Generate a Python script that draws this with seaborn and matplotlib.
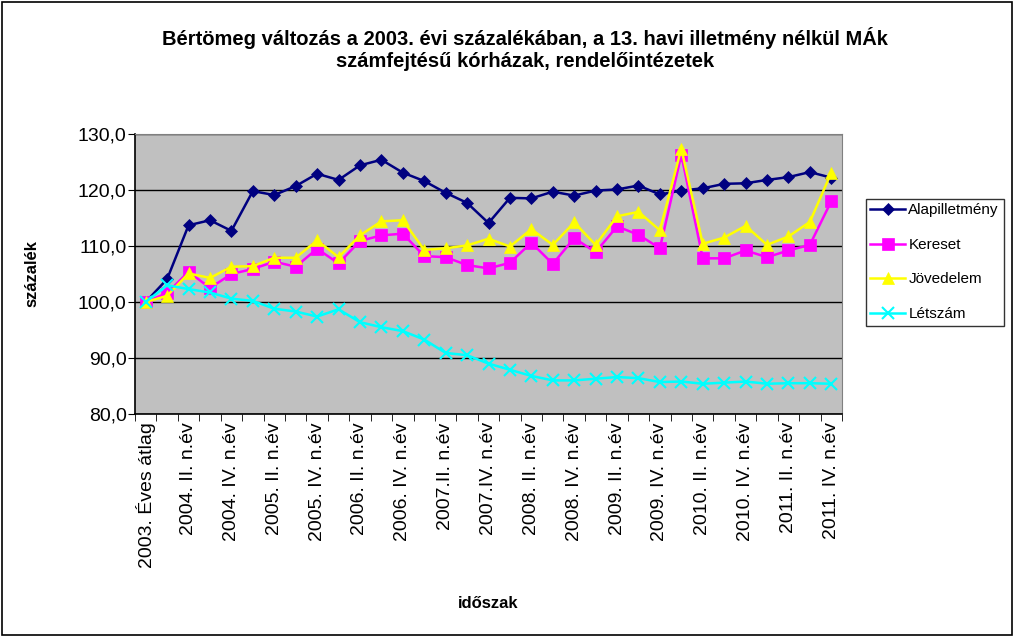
import matplotlib
matplotlib.use("Agg")
import matplotlib.pyplot as plt
import numpy as np
import pandas as pd
import seaborn as sns
from matplotlib.patches import Rectangle

# --- data ---
periods = ["2003. Éves átlag"]
for year in range(2004, 2012):
    for q in ["I.", "II.", "III.", "IV."]:
        sep = "" if year == 2007 else " "
        periods.append(f"{year}.{sep}{q} n.év")

alapilletmeny = [100.0, 104.1, 113.7, 114.6, 112.7, 119.8, 119.1, 120.7, 122.9, 121.8,
                 124.4, 125.4, 123.1, 121.6, 119.5, 117.7, 114.1, 118.6, 118.5, 119.7,
                 119.0, 119.9, 120.1, 120.8, 119.2, 119.9, 120.3, 121.1, 121.2, 121.8,
                 122.3, 123.2, 122.2]
kereset = [100.0, 101.6, 105.4, 102.5, 105.0, 105.9, 107.2, 106.3, 109.5, 106.9,
           110.9, 111.9, 112.2, 108.2, 108.0, 106.6, 106.0, 107.0, 110.6, 106.8,
           111.4, 108.9, 113.5, 112.0, 109.6, 126.3, 107.8, 107.8, 109.2, 108.0,
           109.2, 110.2, 118.0]
jovedelem = [100.0, 101.1, 105.1, 104.3, 106.3, 106.4, 107.9, 107.9, 111.0, 108.0,
             111.9, 114.4, 114.6, 109.3, 109.6, 110.1, 111.3, 109.9, 113.0, 110.2,
             114.2, 110.2, 115.3, 116.1, 112.8, 127.4, 110.4, 111.5, 113.6, 110.2,
             111.7, 114.3, 123.1]
letszam = [100.0, 103.0, 102.3, 101.7, 100.6, 100.2, 98.8, 98.3, 97.4, 98.7,
           96.4, 95.5, 94.8, 93.3, 90.9, 90.5, 89.0, 87.9, 86.8, 86.0,
           86.0, 86.3, 86.6, 86.4, 85.7, 85.8, 85.4, 85.6, 85.8, 85.4,
           85.5, 85.5, 85.4]

series_names = ["Alapilletmény", "Kereset", "Jövedelem", "Létszám"]
series_values = [alapilletmeny, kereset, jovedelem, letszam]
colors = ["#000080", "#FF00FF", "#FFFF00", "#00FFFF"]
markers = ["D", "s", "^", "x"]
msizes = [6, 8, 9, 8]

plt.rcParams["font.family"] = ["Liberation Sans", "DejaVu Sans"]

fig = plt.figure(figsize=(10.14, 6.37), dpi=100)
ax = fig.add_axes([135 / 1014, 1 - 414 / 637, 707 / 1014, 280 / 637])
ax.set_facecolor("#C0C0C0")

x = np.arange(len(periods))
for name, vals, c, m, ms in zip(series_names, series_values, colors, markers, msizes):
    sns.lineplot(x=x, y=vals, ax=ax, color=c, marker=m, markersize=ms,
                 markeredgecolor=c, markeredgewidth=1.5 if m == "x" else 0.5,
                 linewidth=1.8, label=name)

ax.set_xlim(-0.5, len(periods) - 0.5)
ax.set_ylim(80, 130)
ax.set_yticks(np.arange(80, 131, 10))
ax.set_yticklabels([f"{v:.1f}".replace(".", ",") for v in np.arange(80, 131, 10)], fontsize=14)
ax.yaxis.grid(True, color="black", linewidth=1)
ax.set_axisbelow(True)

ax.set_xticks(x[::2])
ax.set_xticklabels(periods[::2], rotation=90, fontsize=14)
ax.set_xticks(np.arange(-0.5, len(periods)), minor=True)
ax.tick_params(axis="x", which="major", length=0, pad=6)
ax.tick_params(axis="x", which="minor", length=5, direction="out", color="black")
ax.tick_params(axis="y", length=5, direction="out", pad=1)

for side in ["top", "right"]:
    ax.spines[side].set_color("#808080")
for side in ["left", "bottom"]:
    ax.spines[side].set_color("black")
    ax.spines[side].set_linewidth(1.2)

ax.set_xlabel("időszak", fontsize=12, fontweight="bold", labelpad=20)
ax.set_ylabel("százalék", fontsize=12, fontweight="bold", labelpad=28)

fig.text(0.518, 0.923, "Bértömeg változás a 2003. évi százalékában, a 13. havi illetmény nélkül MÁk\n"
         "számfejtésű kórházak, rendelőintézetek", ha="center", va="center",
         fontsize=14.5, fontweight="bold", linespacing=1.2)

leg = ax.legend(loc="upper left", bbox_to_anchor=(858 / 1014, 1 - 191 / 637),
                bbox_transform=fig.transFigure, fontsize=11, frameon=True,
                fancybox=False, edgecolor="black", borderpad=0.3,
                labelspacing=1.35, handlelength=2.3, handletextpad=0.2)
leg.get_frame().set_linewidth(1)

fig.patches.append(Rectangle((2 / 1014, 2 / 637), 1 - 4 / 1014, 1 - 4 / 637,
                             transform=fig.transFigure, fill=False,
                             edgecolor="black", linewidth=1.2))

fig.savefig("out.png", dpi=100)
